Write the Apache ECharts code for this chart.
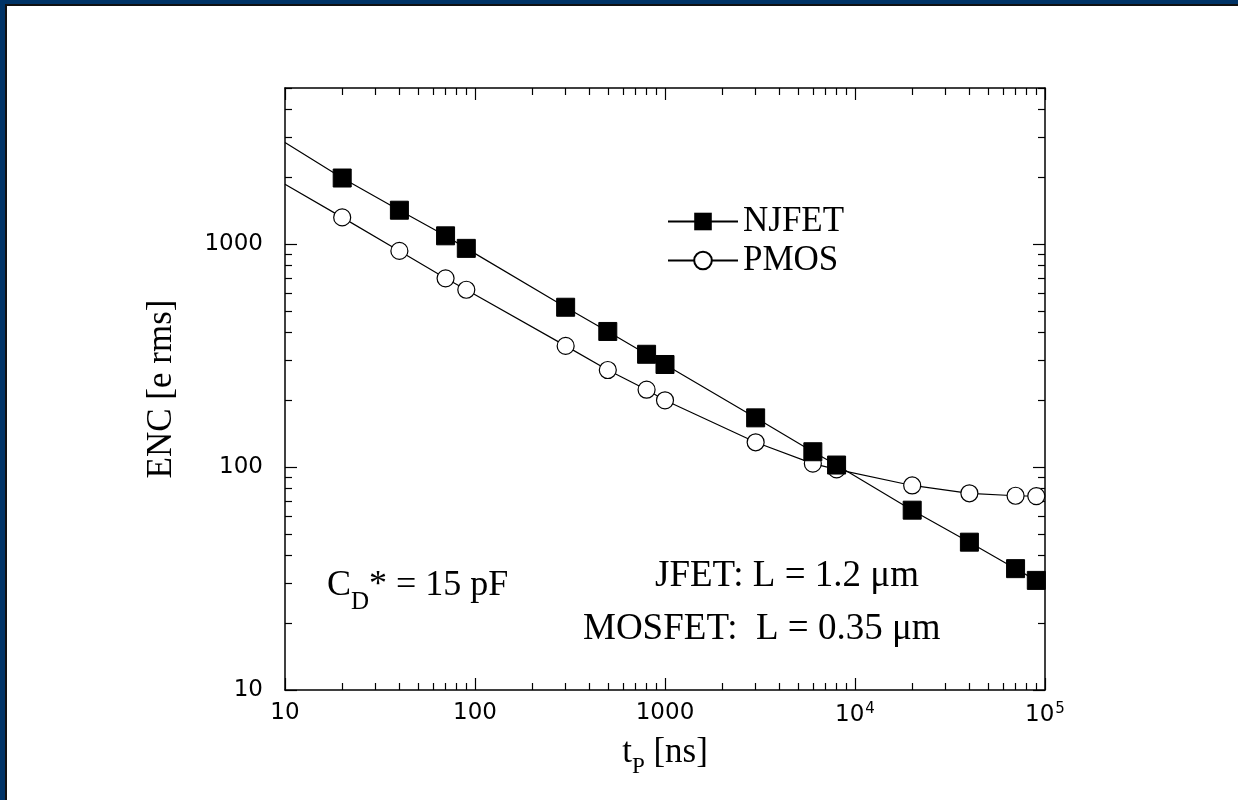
<!DOCTYPE html>
<html>
<head>
<meta charset="utf-8">
<title>ENC vs peaking time</title>
<script src="https://cdn.jsdelivr.net/npm/echarts@6/dist/echarts.min.js"></script>
<style>
  html, body { margin: 0; padding: 0; background: #fff; }
  #frame {
    width: 1238px; height: 800px; box-sizing: border-box;
    border-top: 4px solid #003366; border-left: 5px solid #003366;
  }
  #inner {
    width: 100%; height: 100%; box-sizing: border-box;
    border-top: 2px solid #111; border-left: 2px solid #111;
  }
  #chart { width: 1231px; height: 794px; }
</style>
</head>
<body>
<div id="frame"><div id="inner"><div id="chart"></div></div></div>
<script>
// peaking time [ns]
const tp = [20, 40, 70, 90, 300, 500, 800, 1000, 3000, 6000, 8000, 20000, 40000, 70000, 90000];
// ENC [e rms]
const njfet = [1974, 1416, 1087, 955, 520, 405, 320, 288, 166, 117, 102, 64, 46, 35, 31];
const pmos = [1315, 930, 701, 623, 349, 272, 222, 199, 129, 103.5, 97.5, 82.6, 76.2, 74.3, 74];
// where the drawn curves start at the left edge (t = 10 ns)
const lineStart = { njfet: 2850, pmos: 1850 };

const xMajor = [10, 100, 1000, 10000, 100000];
const xMinor = [20, 30, 40, 50, 60, 70, 80, 90, 200, 300, 400, 500, 600, 700, 800, 900,
  2000, 3000, 4000, 5000, 6000, 7000, 8000, 9000, 20000, 30000, 40000, 50000, 60000, 70000, 80000, 90000];
const yMajor = [10, 100, 1000];
const yMinor = [20, 30, 40, 50, 60, 70, 80, 90, 200, 300, 400, 500, 600, 700, 800, 900,
  2000, 3000, 4000, 5000];

const chart = echarts.init(document.getElementById('chart'));

function seriesData(ys, start) {
  const d = [{ value: [10, start], symbol: 'none' }];
  tp.forEach((t, i) => d.push([t, ys[i]]));
  return d;
}

function fmtX(v) {
  if (v >= 10000) return '{b|10}{s|' + Math.round(Math.log10(v)) + '}';
  return '{b|' + Math.round(v) + '}';
}

const black = '#000';
const serif = '"Liberation Serif", "Times New Roman", serif';
const sans = '"DejaVu Sans", sans-serif';

function axisPair(pos, major, minor, min, max, labels) {
  const base = {
    type: 'log', logBase: 10, min: min, max: max, position: pos,
    splitLine: { show: false }, axisPointer: { show: false }
  };
  const a = Object.assign({}, base, {
    axisLine: { show: true, lineStyle: { color: black, width: 1.5 } },
    axisTick: { show: true, inside: true, length: 12, customValues: major, lineStyle: { color: black, width: 1.2 } },
    axisLabel: { show: false }
  });
  if (labels) {
    a.axisLabel = labels;
  }
  const b = Object.assign({}, base, {
    axisLine: { show: false },
    axisTick: { show: true, inside: true, length: 7, customValues: minor, lineStyle: { color: black, width: 1.2 } },
    axisLabel: { show: false }
  });
  return [a, b];
}

const xLabels = {
  show: true, customValues: xMajor, margin: 12,
  formatter: fmtX,
  rich: {
    b: { fontFamily: sans, fontSize: 23, color: black },
    s: { fontFamily: sans, fontSize: 15, color: black, verticalAlign: 'top', padding: [0, 0, 12, 1] }
  }
};
const yLabels = {
  show: true, customValues: yMajor, margin: 22,
  formatter: v => String(Math.round(v)),
  fontFamily: sans, fontSize: 23, color: black
};

const xAxes = axisPair('bottom', xMajor, xMinor, 10, 100000, xLabels)
  .concat(axisPair('top', xMajor, xMinor, 10, 100000));
xAxes[0].name = '{m|t}{sub|P}{m| [ns]}';
xAxes[0].nameLocation = 'middle';
xAxes[0].nameGap = 37;
xAxes[0].nameTextStyle = {
  rich: {
    m: { fontFamily: serif, fontSize: 35, color: black },
    sub: { fontFamily: serif, fontSize: 23, color: black, padding: [28, 0, 0, 0] }
  }
};

const yAxes = axisPair('left', yMajor, yMinor, 10, 5000, yLabels)
  .concat(axisPair('right', yMajor, yMinor, 10, 5000));
yAxes[0].name = 'ENC [e rms]';
yAxes[0].nameLocation = 'middle';
yAxes[0].nameGap = 106;
yAxes[0].nameTextStyle = { fontFamily: serif, fontSize: 35, color: black };

const option = {
  backgroundColor: '#fff',
  animation: false,
  grid: { left: 278, top: 82, right: 193, bottom: 110, containLabel: false },
  legend: {
    orient: 'vertical', left: 655, top: 193,
    itemWidth: 70, itemHeight: 22, itemGap: 4,
    textStyle: { fontFamily: serif, fontSize: 35, color: black },
    data: ['NJFET', 'PMOS']
  },
  xAxis: xAxes,
  yAxis: yAxes,
  series: [
    {
      name: 'NJFET', type: 'line', xAxisIndex: 0, yAxisIndex: 0,
      data: seriesData(njfet, lineStart.njfet),
      symbol: 'rect', symbolSize: 18, showAllSymbol: true,
      lineStyle: { color: black, width: 1.2 },
      itemStyle: { color: black, borderColor: black },
      z: 3
    },
    {
      name: 'PMOS', type: 'line', xAxisIndex: 0, yAxisIndex: 0,
      data: seriesData(pmos, lineStart.pmos),
      symbol: 'circle', symbolSize: 17, showAllSymbol: true,
      lineStyle: { color: black, width: 1.2 },
      itemStyle: { color: '#fff', borderColor: black, borderWidth: 1.2 },
      z: 2
    }
  ],
  graphic: [
    {
      type: 'text', left: 320, top: 562,
      style: {
        text: '{m|C}{sub|D}{m|* = 15 pF}',
        rich: {
          m: { fontFamily: serif, fontSize: 36, fill: black },
          sub: { fontFamily: serif, fontSize: 25, fill: black, padding: [32, 0, 0, 0] }
        }
      }
    },
    {
      type: 'text', left: 648, top: 552,
      style: { text: 'JFET: L = 1.2 μm', fontFamily: serif, fontSize: 37, fill: black }
    },
    {
      type: 'text', left: 576, top: 605,
      style: { text: 'MOSFET:  L = 0.35 μm', fontFamily: serif, fontSize: 37, fill: black }
    }
  ]
};

chart.setOption(option);
</script>
</body>
</html>
